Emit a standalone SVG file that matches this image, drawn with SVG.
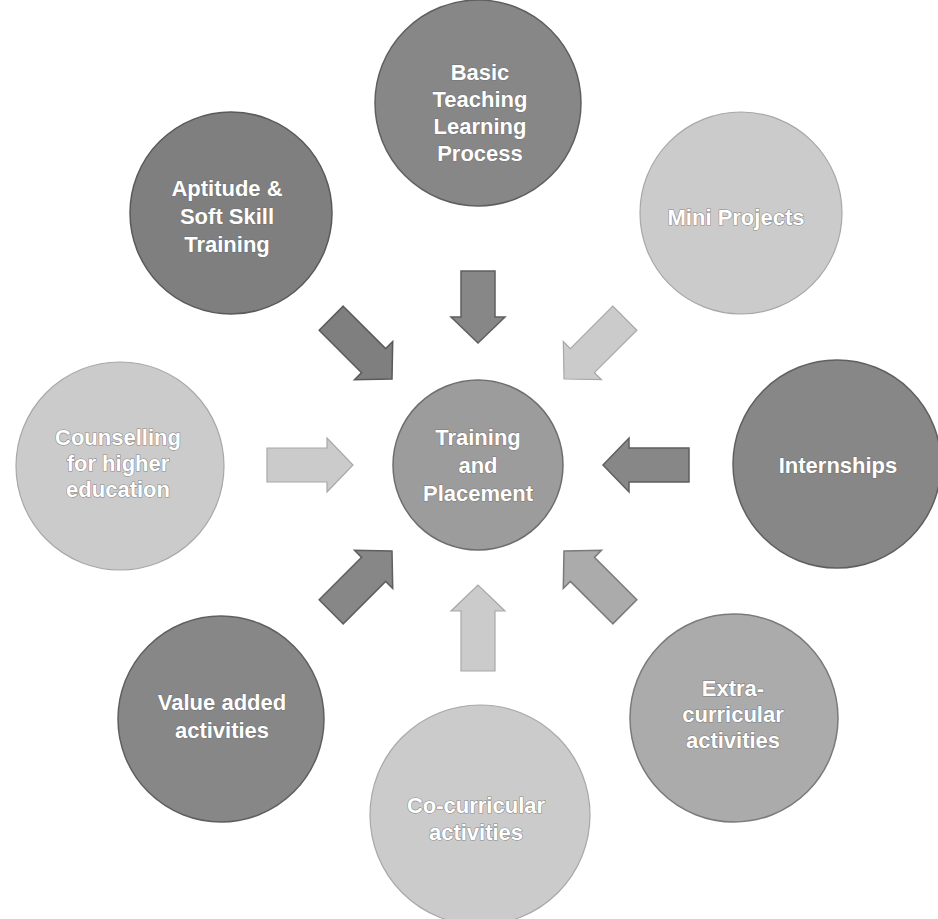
<svg xmlns="http://www.w3.org/2000/svg" width="938" height="919" viewBox="0 0 938 919">
<style>
.t{font-family:"Liberation Sans",Arial,sans-serif;font-weight:700;font-size:22px;fill:#ffffff;text-anchor:middle;stroke:#6a6a6a;stroke-width:1.2;paint-order:stroke;stroke-opacity:0.7}
.dark{fill:#878787;stroke:#5f5f5f;stroke-width:1.5}
.darker{fill:#7f7f7f;stroke:#5a5a5a;stroke-width:1.5}
.mid{fill:#9c9c9c;stroke:#6e6e6e;stroke-width:1.5}
.med{fill:#ababab;stroke:#7a7a7a;stroke-width:1.5}
.light{fill:#cbcbcb;stroke:#a8a8a8;stroke-width:1.2}
</style>
<defs>
<path id="arr" d="M-86,-17 L-26,-17 L-26,-27 L0,0 L-26,27 L-26,17 L-86,17 Z"/>
<path id="arrS" d="M-72,-17 L-26,-17 L-26,-27 L0,0 L-26,27 L-26,17 L-72,17 Z"/>
</defs>
<rect width="938" height="919" fill="#ffffff"/>
<g id="connectors">
<use href="#arrS" class="dark" transform="translate(478,343) rotate(90)"/>
<use href="#arr" class="darker" transform="translate(392,379) rotate(45)"/>
<use href="#arr" class="light" transform="translate(564,379) rotate(135)"/>
<use href="#arr" class="light" transform="translate(353,465) rotate(0)"/>
<use href="#arr" class="dark" transform="translate(603,465) rotate(180)"/>
<use href="#arr" class="dark" transform="translate(392,551) rotate(-45)"/>
<use href="#arr" class="med" transform="translate(564,551) rotate(-135)"/>
<use href="#arr" class="light" transform="translate(478,585) rotate(-90)"/>
</g>
<g id="node-basic">
<circle cx="478" cy="103" r="103" class="dark"/>
<text class="t" x="480" y="80">Basic</text>
<text class="t" x="480" y="107">Teaching</text>
<text class="t" x="480" y="134">Learning</text>
<text class="t" x="480" y="161">Process</text>
</g>
<g id="node-aptitude">
<circle cx="231" cy="213" r="101" class="darker"/>
<text class="t" x="227" y="196">Aptitude &amp;</text>
<text class="t" x="227" y="224">Soft Skill</text>
<text class="t" x="227" y="252">Training</text>
</g>
<g id="node-mini">
<circle cx="741" cy="213" r="101" class="light"/>
<text class="t" x="736" y="225">Mini Projects</text>
</g>
<g id="node-counselling">
<circle cx="120" cy="466" r="104" class="light"/>
<text class="t" x="118" y="445">Counselling</text>
<text class="t" x="118" y="471">for higher</text>
<text class="t" x="118" y="497">education</text>
</g>
<g id="node-internships">
<circle cx="837" cy="464" r="104" class="dark"/>
<text class="t" x="838" y="473">Internships</text>
</g>
<g id="node-value">
<circle cx="221" cy="719" r="103" class="dark"/>
<text class="t" x="222" y="710">Value added</text>
<text class="t" x="222" y="738">activities</text>
</g>
<g id="node-cocurricular">
<circle cx="480" cy="815" r="110" class="light"/>
<text class="t" x="476" y="813">Co-curricular</text>
<text class="t" x="476" y="840">activities</text>
</g>
<g id="node-extra">
<circle cx="734" cy="718" r="104" class="med"/>
<text class="t" x="733" y="696">Extra-</text>
<text class="t" x="733" y="722">curricular</text>
<text class="t" x="733" y="748">activities</text>
</g>
<g id="node-center">
<circle cx="478" cy="465" r="85" class="mid"/>
<text class="t" x="478" y="445">Training</text>
<text class="t" x="478" y="473">and</text>
<text class="t" x="478" y="501">Placement</text>
</g>
</svg>
